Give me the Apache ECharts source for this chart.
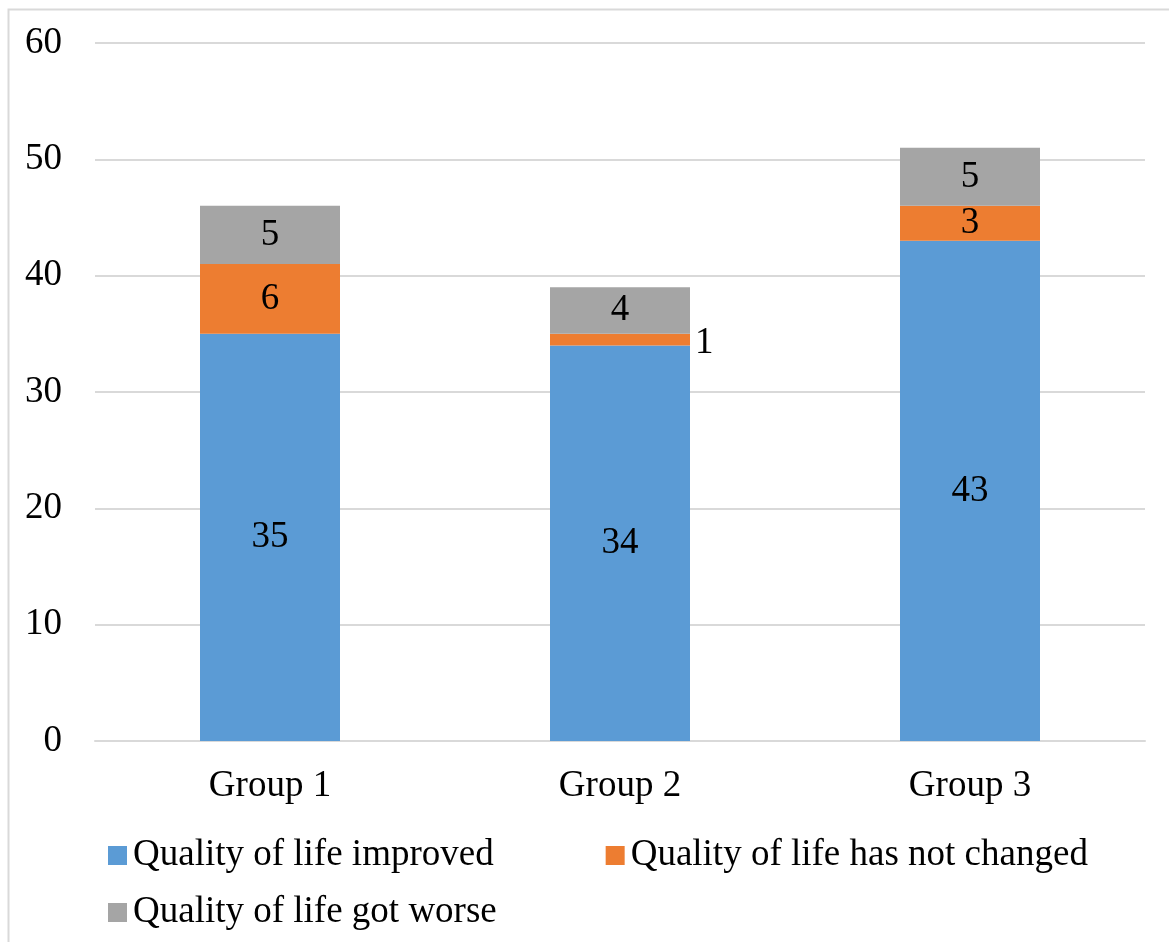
<!DOCTYPE html>
<html>
<head>
<meta charset="utf-8">
<script src="https://cdn.jsdelivr.net/npm/echarts@6/dist/echarts.min.js"></script>
<style>
  html, body { margin: 0; padding: 0; background: #fff; }
  #main { width: 1169px; height: 942px; }
</style>
</head>
<body>
<div id="main"></div>
<script>
var categories = ['Group 1', 'Group 2', 'Group 3'];
var improved = [35, 34, 43];
var notChanged = [6, 1, 3];
var gotWorse = [5, 4, 5];
var seriesNames = ['Quality of life improved', 'Quality of life has not changed', 'Quality of life got worse'];

var font = 'Liberation Serif, Times New Roman, serif';
var fs = 37;

var chart = echarts.init(document.getElementById('main'));

// small segments get their label pushed outside to the right
function withLabels(values) {
    return values.map(function (v) {
        if (v < 2) {
            return { value: v, label: { position: 'right', offset: [0, 4] } };
        }
        return v;
    });
}

var labelStyle = {
    show: true,
    position: 'inside',
    color: '#000',
    fontFamily: font,
    fontSize: fs
};

chart.setOption({
    backgroundColor: '#fff',
    animation: false,
    color: ['#5B9BD5', '#ED7D31', '#A5A5A5'],
    graphic: [{
        type: 'rect',
        shape: { x: 8.5, y: 9.5, width: 1300, height: 1100 },
        style: { fill: 'none', stroke: '#d9d9d9', lineWidth: 2 },
        silent: true
    }],
    grid: {
        left: 95,
        right: 24,
        top: 43,
        bottom: 201
    },
    legend: [{
        data: [seriesNames[0], seriesNames[1]],
        left: 103,
        top: 832,
        itemWidth: 19,
        itemHeight: 19,
        itemGap: 112,
        icon: 'rect',
        textStyle: { fontFamily: font, fontSize: fs, color: '#000', padding: [0, 0, 0, 1] }
    }, {
        data: [seriesNames[2]],
        left: 103,
        top: 889,
        itemWidth: 19,
        itemHeight: 19,
        icon: 'rect',
        textStyle: { fontFamily: font, fontSize: fs, color: '#000', padding: [0, 0, 0, 1] }
    }],
    xAxis: {
        type: 'category',
        data: categories,
        axisLine: { lineStyle: { color: '#d9d9d9', width: 2 } },
        axisTick: { show: false },
        axisLabel: {
            color: '#000',
            fontFamily: font,
            fontSize: fs,
            margin: 27
        }
    },
    yAxis: {
        type: 'value',
        min: 0,
        max: 60,
        interval: 10,
        axisLine: { show: false },
        axisTick: { show: false },
        splitLine: { lineStyle: { color: '#d9d9d9', width: 2 } },
        axisLabel: {
            color: '#000',
            fontFamily: font,
            fontSize: fs,
            margin: 33
        }
    },
    series: [{
        name: seriesNames[0],
        type: 'bar',
        stack: 'total',
        barWidth: '40%',
        data: withLabels(improved),
        label: labelStyle
    }, {
        name: seriesNames[1],
        type: 'bar',
        stack: 'total',
        barWidth: '40%',
        data: withLabels(notChanged),
        label: labelStyle
    }, {
        name: seriesNames[2],
        type: 'bar',
        stack: 'total',
        barWidth: '40%',
        data: withLabels(gotWorse),
        label: labelStyle
    }]
});
</script>
</body>
</html>
